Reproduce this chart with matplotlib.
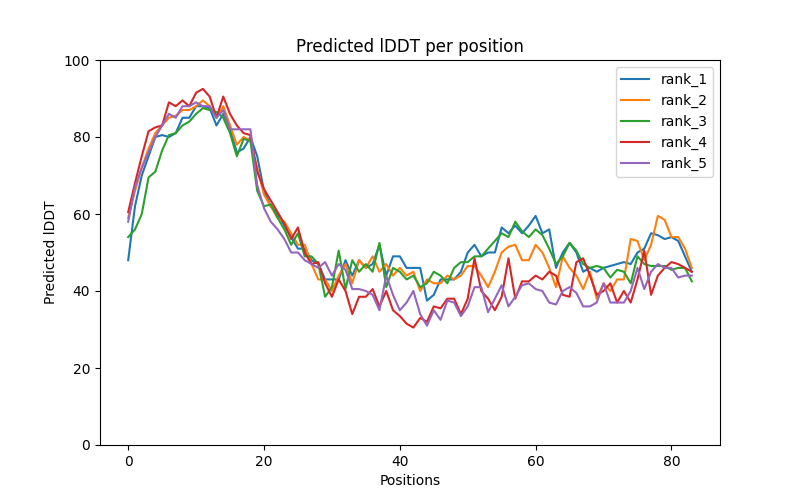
#!/usr/bin/env python3
import matplotlib
matplotlib.use("Agg")
import matplotlib.pyplot as plt

# per-residue lDDT
rank_1 = [48, 62, 70, 75, 80, 80.5, 80, 81, 85, 85, 88, 88, 87.5, 83, 86, 82, 76, 77, 80, 75,
          66, 62, 60, 57, 54, 51, 51, 48, 47, 43, 43, 43, 48, 44, 48, 46, 47, 52, 44, 49,
          49, 46, 46, 46, 37.5, 39, 43, 43, 43, 45, 50, 52, 49, 50, 50, 56.5, 55, 57, 55, 57,
          59.5, 55, 56, 46, 50, 52.5, 50, 45, 46, 45, 46, 46.5, 47, 47.5, 47, 50, 51, 55, 54.5, 53.5,
          54, 53, 49, 45]
rank_2 = [59, 66, 72, 77, 81, 83, 85, 85.5, 87, 87, 88, 89.5, 88, 85, 88, 83, 78, 80, 79, 72,
          65, 62, 59, 58, 55, 52, 52, 47, 43, 43, 40, 44, 47, 42, 48, 46, 49, 45, 47, 44,
          46, 44, 45, 40, 43, 42, 42, 44, 43, 44, 46.5, 46.5, 44, 41, 45, 50, 51.5, 52, 48, 48,
          52, 50, 46, 41, 49, 46, 44, 40.5, 45, 38, 42, 40, 43, 43, 53.5, 53, 48, 52, 59.5, 58.5,
          54, 54, 51, 46]
rank_3 = [54, 56, 60, 69.5, 71, 76.5, 80.5, 81, 83, 84, 86, 87.5, 87, 86.5, 85, 81, 75, 79.5, 79, 66,
          62, 62.5, 59, 56, 52, 55, 49, 49, 47, 38.5, 41, 50.5, 40.5, 48, 45, 47, 45, 52.5, 41, 46,
          45, 43, 44, 41, 42, 45, 44, 42, 46, 47.5, 47.5, 49, 49, 51, 53, 55, 54, 58, 55.5, 54,
          56, 54.5, 51, 47, 49, 52.5, 50.5, 47, 46, 46.5, 46, 43.5, 45.5, 45, 42, 49, 47, 46.5, 46.5, 46.5,
          45.5, 46, 46, 42.5]
rank_4 = [60.5, 68, 75, 81.5, 82.5, 83, 89, 88, 89.5, 88, 91.5, 92.5, 90.5, 85, 90.5, 86, 83, 81, 80.5, 71,
          66.5, 63.5, 60.5, 57.5, 53.5, 56.5, 50, 47, 47.5, 42, 38.5, 43, 40, 34, 38.5, 38.5, 40.5, 36, 40, 35,
          33.5, 31.5, 30.5, 33, 32, 36, 35.5, 38, 38, 34, 38, 48.5, 40, 38, 35, 38.5, 48.5, 38, 42.5, 42.5,
          44, 43, 45, 44, 39, 38.5, 47.5, 48.5, 44, 39, 40, 42, 37, 40, 37, 43, 50.5, 39, 44, 46,
          47.5, 47, 46, 45]
rank_5 = [58, 67, 72, 76, 80, 83, 86, 85, 88, 88, 89, 88, 88, 85, 87, 82, 82, 82, 82, 67.5,
          61.5, 58, 56, 53.5, 50, 50, 48, 47, 46, 47.5, 44, 47, 45.5, 40.5, 40.5, 40, 39, 35, 44, 39,
          35, 37, 40, 34, 31, 35, 32.5, 37.5, 37, 33.5, 36, 41, 41, 34.5, 38, 41.5, 36, 38.5, 41.5, 42,
          40.5, 40, 37, 36.5, 40, 41, 39.5, 36, 36, 37, 42, 37, 37, 37, 40, 46, 40.5, 45, 47, 46,
          46, 43.5, 44, 44]

models = ["rank_1", "rank_2", "rank_3", "rank_4", "rank_5"]
scores = [rank_1, rank_2, rank_3, rank_4, rank_5]

if __name__ == "__main__":
    plt.figure(figsize=(8, 5), dpi=100)
    for name, s in zip(models, scores):
        plt.plot(range(len(s)), s, label=name)
    plt.title("Predicted lDDT per position")
    plt.xlabel("Positions")
    plt.ylabel("Predicted lDDT")
    plt.ylim(0, 100)
    plt.legend()
    plt.savefig("out.png")
    plt.close()
